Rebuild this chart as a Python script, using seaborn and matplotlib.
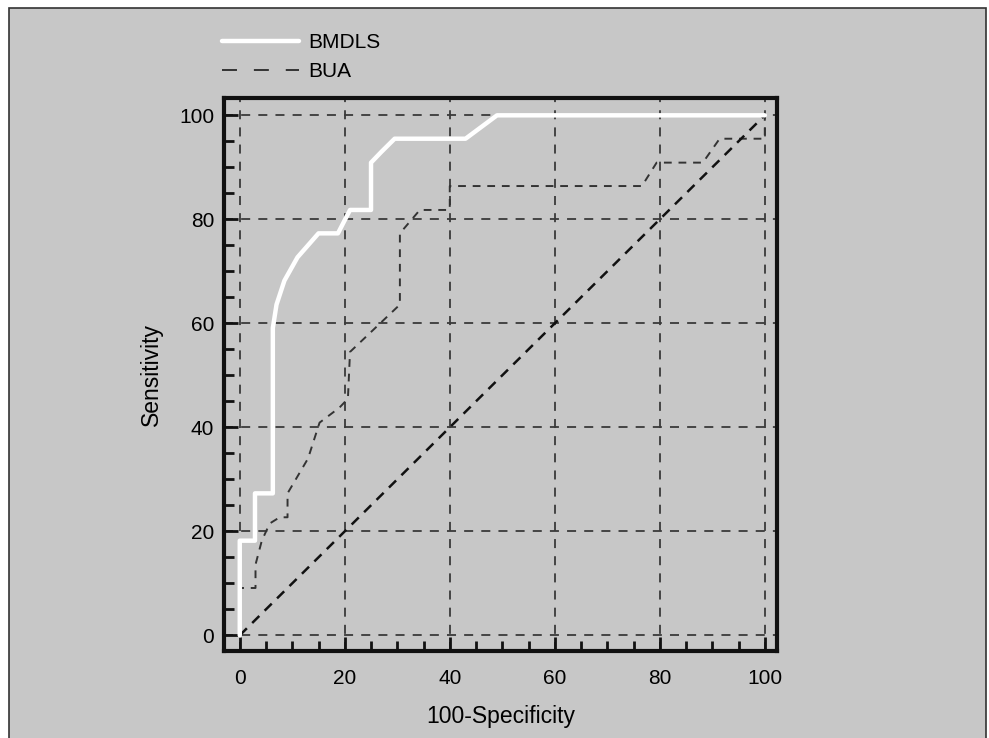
import numpy as np
import pandas as pd
import seaborn as sns
import matplotlib.pyplot as plt
from matplotlib.patches import Rectangle
from matplotlib.lines import Line2D

# ROC curve points (100-Specificity, Sensitivity)
bmdls_x = [0, 0, 2.9, 2.9, 6.3, 6.3, 7.0, 8.5, 11.0, 15.0, 18.7, 21.0, 25.0, 25.0, 27.0, 29.5, 43.0, 49.0, 100]
bmdls_y = [0, 18.2, 18.2, 27.3, 27.3, 59.1, 63.6, 68.2, 72.7, 77.3, 77.3, 81.8, 81.8, 90.9, 93.0, 95.5, 95.5, 100, 100]

bua_x = [0, 0, 3.0, 3.0, 4.2, 5.7, 7.6, 9.1, 9.1, 13.0, 15.2, 19.0, 20.6, 21.0, 30.5, 30.5, 34.3, 40.0, 40.0, 76.6, 79.4, 88.2, 91.4, 100, 100]
bua_y = [0, 9.1, 9.1, 13.6, 18.2, 21.5, 22.7, 22.7, 27.3, 34.0, 40.9, 43.8, 45.5, 54.5, 63.6, 77.3, 81.8, 81.8, 86.4, 86.4, 90.9, 90.9, 95.5, 95.5, 100]

diag = [0, 100]
ticks = [0, 20, 40, 60, 80, 100]

bg = "#c7c7c7"
dark = "#111111"

sns.set_style("ticks")
plt.rcParams["font.family"] = ["Liberation Sans", "DejaVu Sans"]
plt.rcParams["text.color"] = "black"

fig = plt.figure(figsize=(9.89, 7.38), dpi=100)
fig.patch.set_facecolor("white")
fig.add_artist(Rectangle((9 / 989, -0.05), 977 / 989, 0.05 + 730 / 738, transform=fig.transFigure,
                         facecolor=bg, edgecolor="#333333", lw=1.2, zorder=-10))

ax = fig.add_axes([0.2265, 0.118, 0.559, 0.749])
ax.set_facecolor(bg)

df_b = pd.DataFrame({"x": bmdls_x, "y": bmdls_y})
df_u = pd.DataFrame({"x": bua_x, "y": bua_y})

sns.lineplot(data=df_b, x="x", y="y", sort=False, estimator=None, ax=ax,
             color="white", lw=3.2, zorder=4)
sns.lineplot(data=df_u, x="x", y="y", sort=False, estimator=None, ax=ax,
             color="#333333", lw=1.4, ls=(0, (4, 3.5)), zorder=3)
ax.plot(diag, diag, color=dark, lw=1.8, ls=(0, (4, 3)), zorder=3)

ax.set_xlim(-3, 102.3)
ax.set_ylim(-3, 103.3)
ax.set_xticks(ticks)
ax.set_yticks(ticks)
ax.set_xticks(np.arange(0, 101, 5), minor=True)
ax.set_yticks(np.arange(0, 101, 5), minor=True)
ax.tick_params(which="both", direction="in", width=2, color=dark, labelsize=15, labelcolor="black")
ax.tick_params(axis="x", which="major", pad=13)
ax.tick_params(axis="y", which="major", pad=7)
ax.tick_params(which="major", length=10)
ax.tick_params(which="minor", length=7)
ax.grid(True, which="major", color="#3a3a3a", lw=1.3, ls=(0, (5, 4.5)))
for s in ax.spines.values():
    s.set_linewidth(3)
    s.set_color(dark)

ax.set_xlabel("100-Specificity", fontsize=16.5, labelpad=12, color="black")
ax.set_ylabel("Sensitivity", fontsize=16.5, labelpad=12, color="black")

handles = [Line2D([], [], color="white", lw=3.2),
           Line2D([], [], color="#333333", lw=1.4, ls=(0, (7.7, 8.7)))]
ax.legend(handles, ["BMDLS", "BUA"], loc="lower left", bbox_to_anchor=(-0.034, 1.0),
          frameon=False, fontsize=15, handlelength=3.7, handletextpad=0.45,
          labelspacing=0.5, borderaxespad=0.4)

plt.savefig("out.png", dpi=100, facecolor=fig.get_facecolor())
